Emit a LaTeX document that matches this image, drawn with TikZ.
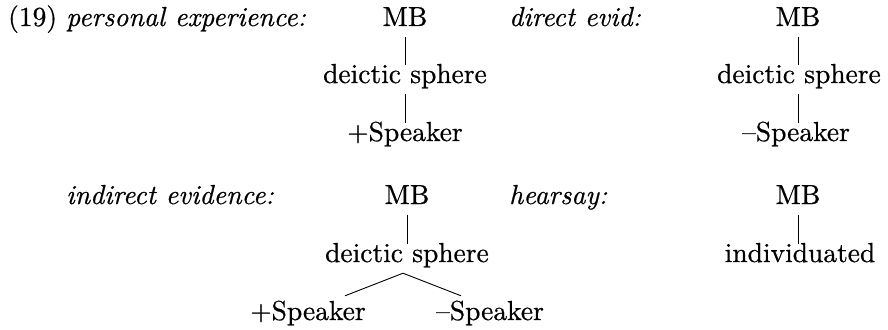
\documentclass[tikz,border=0pt]{standalone}
\usepackage{fontspec}
\setmainfont{lmroman10-regular.otf}[ItalicFont=lmroman10-italic.otf, FakeBold=0.6]

\tikzset{
  treenode/.style={anchor=base, inner sep=0pt, text height=18pt, text depth=11pt,
                   font=\fontsize{27.5}{33}\selectfont},
  caption/.style={anchor=base west, inner sep=0pt, font=\fontsize{27.5}{33}\selectfont\itshape},
  number/.style={anchor=base west, inner sep=0pt, font=\fontsize{27.5}{33}\selectfont},
  branch/.style={line width=0.9pt}
}

\begin{document}
\begin{tikzpicture}[x=1pt, y=-1pt]
  \useasboundingbox (0,0) rectangle (888,329);

  % example number and category labels
  \node[number]  (num)  at (8,26)    {(19)};
  \node[caption] (lpe)  at (66,26)   {personal experience:};
  \node[caption] (lde)  at (509,26)  {direct evid:};
  \node[caption] (lie)  at (66,204)  {indirect evidence:};
  \node[caption] (lhs)  at (509,204) {hearsay:};

  % personal experience
  \node[treenode] (a1) at (405,26)  {MB};
  \node[treenode] (a2) at (405,83)  {deictic sphere};
  \node[treenode] (a3) at (405,141) {+Speaker};
  \draw[branch] (a1.south) -- (a2.north);
  \draw[branch] (a2.south) -- (a3.north);

  % direct evidence
  \node[treenode] (b1) at (798,26)  {MB};
  \node[treenode] (b2) at (799,83)  {deictic sphere};
  \node[treenode] (b3) at (796,141) {\textendash Speaker};
  \draw[branch] (b1.south) -- (b1.south |- b2.north);
  \draw[branch] (b1.south |- b2.south) -- (b1.south |- b3.north);

  % indirect evidence
  \node[treenode] (c1) at (407,204) {MB};
  \node[treenode] (c2) at (407,262) {deictic sphere};
  \node[treenode] (c3) at (308,320) {+Speaker};
  \node[treenode] (c4) at (490,320) {\textendash Speaker};
  \draw[branch] (c1.south) -- (c2.north);
  \draw[branch] ([xshift=-4pt]c2.south) -- ([xshift=37pt,yshift=6pt]c3.north);
  \draw[branch] ([xshift=-4pt]c2.south) -- ([xshift=-29pt,yshift=6pt]c4.north);

  % hearsay
  \node[treenode] (d1) at (798,204) {MB};
  \node[treenode] (d2) at (800,262) {individuated};
  \draw[branch] (d1.south) -- (d1.south |- d2.north);
\end{tikzpicture}
\end{document}
